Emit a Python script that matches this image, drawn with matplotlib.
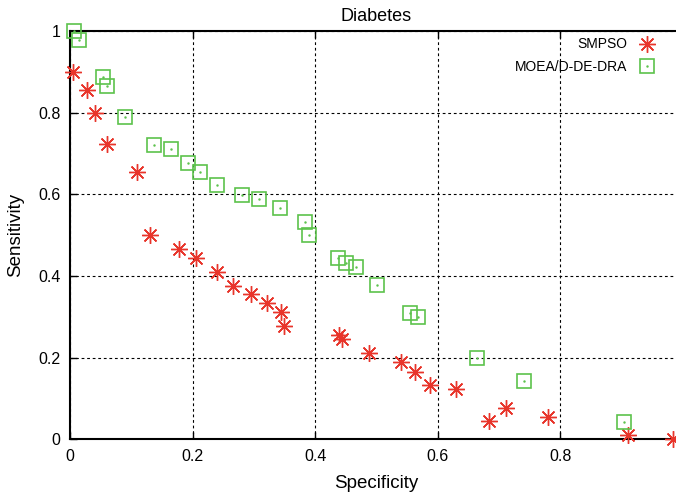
import matplotlib
matplotlib.use("Agg")
import matplotlib.pyplot as plt
from matplotlib.ticker import FormatStrFormatter

# SMPSO (rote Sterne)
smpso_spec = [0.005, 0.027, 0.041, 0.061, 0.109, 0.130, 0.178, 0.206, 0.239, 0.266,
              0.295, 0.321, 0.344, 0.349, 0.439, 0.443, 0.487, 0.540, 0.562, 0.588,
              0.630, 0.684, 0.711, 0.780, 0.911, 0.984]
smpso_sens = [0.900, 0.855, 0.800, 0.723, 0.655, 0.500, 0.465, 0.443, 0.410, 0.376,
              0.355, 0.333, 0.311, 0.277, 0.255, 0.245, 0.211, 0.189, 0.166, 0.133,
              0.122, 0.045, 0.077, 0.055, 0.011, 0.000]

# MOEA/D-DE-DRA (grüne Quadrate)
moea_spec = [0.007, 0.014, 0.054, 0.061, 0.089, 0.137, 0.164, 0.192, 0.212, 0.239,
             0.280, 0.308, 0.343, 0.383, 0.390, 0.438, 0.451, 0.466, 0.500, 0.555,
             0.568, 0.664, 0.740, 0.904]
moea_sens = [1.000, 0.978, 0.888, 0.866, 0.789, 0.722, 0.710, 0.677, 0.655, 0.622,
             0.599, 0.589, 0.566, 0.533, 0.500, 0.445, 0.433, 0.423, 0.378, 0.310,
             0.299, 0.200, 0.144, 0.043]

x_ticks = [0, 0.2, 0.4, 0.6, 0.8]
y_ticks = [0, 0.2, 0.4, 0.6, 0.8, 1.0]

plt.rcParams['font.family'] = ['Liberation Sans', 'DejaVu Sans']

fig = plt.figure(figsize=(6.76, 4.93), dpi=100)
# rechte Kante liegt ausserhalb des Bildes (wie im Original abgeschnitten)
ax = fig.add_axes([70 / 676, 1 - 439.3 / 493, 613 / 676, 408.3 / 493])

red = "#e8352b"
green = "#5cc24c"

star, = ax.plot(smpso_spec, smpso_sens, linestyle="none", marker=(8, 2, 0),
                markersize=12, markeredgewidth=1.0, color=red, label="SMPSO",
                clip_on=False, zorder=3)
sq, = ax.plot(moea_spec, moea_sens, linestyle="none", marker="s", markersize=10,
              markerfacecolor="none", markeredgewidth=1.2, color=green,
              label="MOEA/D-DE-DRA", clip_on=False, zorder=3)
dot, = ax.plot(moea_spec, moea_sens, linestyle="none", marker=".", markersize=1.5,
               color=green, clip_on=False, zorder=3)

ax.set_xlim(0, 1)
ax.set_ylim(0, 1)
ax.set_xticks(x_ticks)
ax.set_yticks(y_ticks)
ax.xaxis.set_major_formatter(FormatStrFormatter("%g"))
ax.yaxis.set_major_formatter(FormatStrFormatter("%g"))
ax.tick_params(direction="in", length=5, width=1, labelsize=11.5, colors="black",
               top=True, pad=7)

ax.grid(True, color="black", linestyle=(0, (2.5, 2.5)), linewidth=0.8)
ax.set_axisbelow(True)
for s in ["left", "bottom", "top", "right"]:
    ax.spines[s].set_linewidth(1.5)

ax.set_title("Diabetes", fontsize=13, pad=7)
ax.set_xlabel("Specificity", fontsize=13.5, labelpad=8)
ax.set_ylabel("Sensitivity", fontsize=13.5, labelpad=10)

ax.legend(handles=[star, (sq, dot)], labels=["SMPSO", "MOEA/D-DE-DRA"],
          loc="upper right", bbox_to_anchor=(0.975, 1.015), markerfirst=False,
          frameon=False, fontsize=10, handlelength=1.2, handletextpad=0.8,
          labelspacing=0.6)

fig.savefig("out.png", dpi=100)
